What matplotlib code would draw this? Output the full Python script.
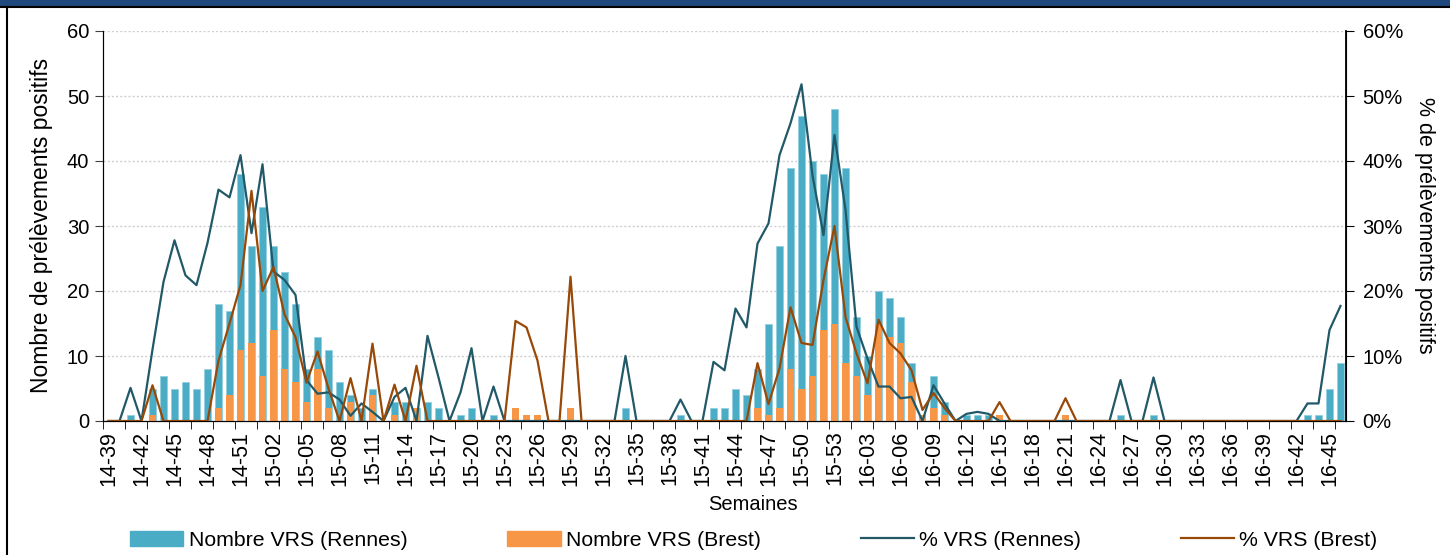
import numpy as np
import matplotlib
matplotlib.use("Agg")
import matplotlib.pyplot as plt
from matplotlib.patches import Rectangle, Patch
from matplotlib.lines import Line2D
from matplotlib.ticker import PercentFormatter

plt.rcParams["font.family"] = ["Liberation Sans", "DejaVu Sans"]

# semaines 14-39 .. 16-46
weeks = (["14-%02d" % w for w in range(39, 53)]
         + ["15-%02d" % w for w in range(1, 54)]
         + ["16-%02d" % w for w in range(1, 47)])

# nombre de VRS positifs
rennes_n_2014 = [0, 0, 1, 0, 5, 7, 5, 6, 5, 8, 18, 17, 38, 27]
rennes_n_2015 = [33, 27, 23, 18, 8, 13, 11, 6, 4, 2, 5, 0, 3, 3, 2, 3, 2, 0, 1, 2,
                 0, 1, 0] + [0] * 10 + [2, 0, 0, 0, 0, 1, 0, 0,
                 2, 2, 5, 4, 8, 15, 27, 39, 47, 40, 38, 48]
rennes_n_2016 = [39, 16, 10, 20, 19, 16, 9, 0, 7, 3, 0, 1, 1, 1, 0] + [0] * 10 + \
                [1, 0, 0, 1] + [0] * 13 + [1, 1, 5, 9]

brest_n_2014 = [0, 0, 0, 0, 1, 0, 0, 0, 0, 0, 2, 4, 11, 12]
brest_n_2015 = [7, 14, 8, 6, 3, 8, 2, 0, 3, 0, 4, 0, 1, 0, 2] + [0] * 8 + \
               [2, 1, 1, 0, 0, 2] + [0] * 16 + [2, 1, 2, 8, 5, 7, 14, 15]
brest_n_2016 = [9, 7, 4, 15, 13, 12, 6, 1, 2, 1, 0, 0, 0, 0, 1, 0, 0, 0, 0, 0, 1] + [0] * 25

# % de prelevements positifs
rennes_pct_2014 = [0, 0, 5.1, 0, 11, 21.4, 27.8, 22.4, 20.9, 27.4, 35.6, 34.4, 40.9, 28.9]
rennes_pct_2015 = [39.5, 23, 21.7, 19.4, 6.3, 4.2, 4.4, 3.3, 0.8, 2.7, 1.4, 0, 3.7, 5.1,
                   0, 13.1, 6.7, 0, 4.4, 11.2, 0, 5.3, 0] + [0] * 10 + \
                  [10, 0, 0, 0, 0, 3.3, 0, 0, 9.1, 7.8, 17.3, 14.4, 27.3, 30.4,
                   40.9, 45.8, 51.8, 37.8, 28.6, 44]
rennes_pct_2016 = [32.5, 14.5, 9.6, 5.3, 5.3, 3.5, 3.7, 0, 5.5, 2.7, 0, 1.1, 1.4, 1.1,
                   0] + [0] * 10 + [6.3, 0, 0, 6.7] + [0] * 13 + [2.7, 2.7, 14, 17.7]

brest_pct_2014 = [0, 0, 0, 0, 5.5, 0, 0, 0, 0, 0, 9.3, 15, 20.9, 35.4]
brest_pct_2015 = [20, 23.7, 16.4, 12.9, 5.9, 10.7, 5, 0, 6.6, 0, 11.9, 0, 5.6, 0,
                  8.5] + [0] * 8 + [15.4, 14.4, 9.3, 0, 0, 22.2] + [0] * 16 + \
                 [8.9, 2.6, 8.1, 17.5, 12, 11.7, 21.7, 30]
brest_pct_2016 = [16, 10.4, 5.8, 15.6, 12, 10.4, 7.8, 1.7, 4.3, 2, 0, 0, 0, 0, 2.9,
                  0, 0, 0, 0, 0, 3.5] + [0] * 25

rennes_n = rennes_n_2014 + rennes_n_2015 + rennes_n_2016
brest_n = brest_n_2014 + brest_n_2015 + brest_n_2016
rennes_pct = rennes_pct_2014 + rennes_pct_2015 + rennes_pct_2016
brest_pct = brest_pct_2014 + brest_pct_2015 + brest_pct_2016

c_rennes_bar = "#4BACC6"
c_brest_bar = "#F79646"
c_rennes_line = "#215968"
c_brest_line = "#984807"

W, H = 1450, 555
fig = plt.figure(figsize=(W / 100, H / 100), dpi=100)
ax = fig.add_axes([103 / W, 1 - 421 / H, 1243 / W, 390 / H])

x = np.arange(len(weeks))
ax.bar(x, rennes_n, width=0.65, color=c_rennes_bar, edgecolor="#92D0E0",
       linewidth=0.6, zorder=2)
ax.bar(x, brest_n, width=0.65, color=c_brest_bar, zorder=3)

ax.set_xlim(-0.5, len(weeks) - 0.5)
ax.set_ylim(0, 60)
ax.set_yticks(range(0, 61, 10))
ax.yaxis.grid(True, linestyle=(0, (1.5, 1.5)), color="#CFCFCF", linewidth=1)
ax.set_axisbelow(True)
ax.tick_params(axis="y", labelsize=14.5, length=6, pad=4, color="#404040")

ax.set_xticks(x[::3])
ax.set_xticklabels(weeks[::3], rotation=90, fontsize=15.5)
ax.tick_params(axis="x", which="major", length=0, pad=7)
ax.set_xticks(np.arange(-0.5, len(weeks), 2), minor=True)
ax.tick_params(axis="x", which="minor", length=6, color="black")

ax.spines["top"].set_visible(False)
ax.spines["left"].set_color("#404040")
ax.spines["bottom"].set_color("black")

ax2 = ax.twinx()
ax2.plot(x, rennes_pct, color=c_rennes_line, lw=1.6, zorder=3)
ax2.plot(x, brest_pct, color=c_brest_line, lw=1.6, zorder=4)
ax2.set_ylim(0, 60)
ax2.set_yticks(range(0, 61, 10))
ax2.yaxis.set_major_formatter(PercentFormatter(decimals=0))
ax2.tick_params(axis="y", labelsize=14.5, length=6, pad=6)
ax2.spines["top"].set_visible(False)
ax2.spines["right"].set_linewidth(1.3)

fig.text(42 / W, 1 - 225 / H, "Nombre de prélèvements positifs", rotation=90,
         ha="center", va="center", fontsize=16.5)
fig.text(1425 / W, 1 - 225 / H, "% de prélèvements positifs", rotation=270,
         ha="center", va="center", fontsize=15.5)
fig.text(753 / W, 1 - 505 / H, "Semaines", ha="center", va="center", fontsize=14.5)

handles = [Patch(color=c_rennes_bar), Patch(color=c_brest_bar),
           Line2D([], [], color=c_rennes_line, lw=1.6),
           Line2D([], [], color=c_brest_line, lw=1.6)]
labels = ["Nombre VRS (Rennes)", "Nombre VRS (Brest)", "% VRS (Rennes)", "% VRS (Brest)"]
fig.legend(handles, labels, loc="center", bbox_to_anchor=(754 / W, 1 - 540 / H),
           ncol=4, frameon=False, fontsize=15.3, handlelength=2.5, handleheight=0.7,
           handletextpad=0.25, columnspacing=4.7)

# cadre
fig.patches.append(Rectangle((0, 1 - 6 / H), 1, 6 / H, transform=fig.transFigure,
                             color="#1F497D", zorder=0))
fig.lines.append(Line2D([0, 1], [1 - 7 / H, 1 - 7 / H], transform=fig.transFigure,
                        color="black", lw=1.5))
fig.lines.append(Line2D([7 / W, 7 / W], [0, 1 - 7 / H], transform=fig.transFigure,
                        color="black", lw=1.5))

fig.savefig("out.png", dpi=100)
